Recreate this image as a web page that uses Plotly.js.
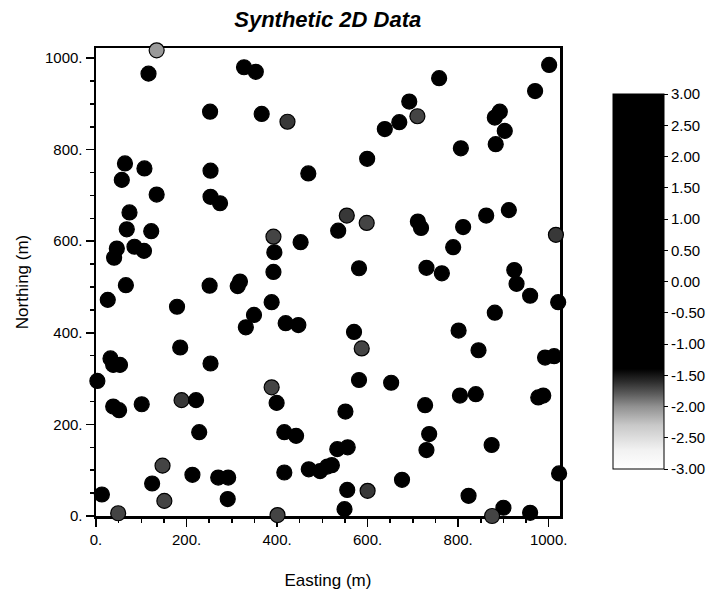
<!DOCTYPE html>
<html>
<head>
<meta charset="utf-8">
<script src="https://cdn.plot.ly/plotly-3.0.1.min.js"></script>
<style>
  html, body { margin: 0; padding: 0; background: #ffffff; }
  #chart { width: 711px; height: 593px; }
</style>
</head>
<body>
<div id="chart"></div>
<script>
// Sample locations (m) and the measured value at each location
const easting = [
  134, 116, 327, 353, 1001, 970, 758, 252, 366, 423,
  692, 710, 670, 638, 892, 881, 903, 883, 806, 599,
  64, 107, 57, 253, 469, 134, 253, 274, 74, 68,
  122, 46, 85, 106, 40, 392, 394, 452, 554, 535,
  598, 711, 718, 811, 862, 912, 789, 1016, 392, 581,
  730, 764, 924, 929, 959, 1021, 66, 26, 251, 313,
  318, 388, 179, 349, 331, 419, 447, 881, 570, 587,
  801, 845, 186, 253, 32, 38, 53, 3, 992, 1012,
  581, 652, 38, 51, 101, 189, 221, 388, 399, 804,
  839, 977, 988, 727, 551, 228, 416, 442, 736, 730,
  874, 533, 556, 147, 124, 213, 270, 292, 416, 470,
  495, 511, 521, 676, 1023, 151, 291, 13, 49, 401,
  549, 555, 600, 823, 900, 875, 959
];
const northing = [
  1017, 966, 980, 970, 985, 928, 956, 883, 878, 861,
  905, 873, 860, 845, 883, 870, 841, 812, 803, 780,
  770, 759, 734, 754, 748, 702, 697, 683, 663, 626,
  622, 584, 588, 579, 564, 610, 576, 598, 656, 623,
  640, 643, 629, 631, 656, 668, 587, 614, 533, 541,
  542, 530, 537, 507, 481, 467, 504, 472, 503, 502,
  512, 467, 457, 439, 412, 421, 417, 444, 402, 366,
  405, 362, 368, 333, 344, 330, 330, 295, 346, 349,
  297, 291, 239, 231, 244, 253, 253, 281, 247, 263,
  266, 259, 263, 242, 228, 183, 183, 175, 179, 144,
  155, 146, 150, 110, 71, 90, 84, 84, 95, 102,
  98, 108, 111, 79, 93, 33, 37, 47, 6, 2,
  15, 57, 55, 44, 18, 0, 7
];
const values = [
  -2.05, 0.85, 1.40, 0.62, 2.10, 1.75, 0.33, -0.45, 0.90, -1.65,
  1.12, -1.70, 0.48, -0.20, 2.35, 1.60, 0.95, 0.27, -0.70, 1.05,
  0.15, -0.35, 0.72, 1.88, -0.95, 0.40, 1.25, 0.05, -0.60, 0.98,
  1.55, -0.15, 0.66, 1.30, 0.22, -1.70, 0.58, -0.40, -1.65, 0.81,
  -1.70, 1.45, 0.12, -0.88, 0.70, 1.95, 0.36, -1.65, -0.25, 1.10,
  0.55, -1.05, 0.88, 1.66, 0.30, -0.52, 1.20, 0.44, -0.78, 0.92,
  1.38, 0.18, -0.30, 0.76, 1.02, -0.64, 0.50, 1.72, 0.08, -1.70,
  0.63, 1.15, -0.48, 0.86, 0.24, 1.48, -0.12, 0.69, 2.05, 0.41,
  -0.83, 0.97, 0.35, 1.28, -0.22, -1.65, 0.74, -1.70, 0.16, 1.08,
  0.52, -0.58, 1.34, 0.28, 0.83, -0.38, 1.62, 0.46, 0.10, -0.92,
  0.67, 1.18, 0.31, -1.70, 0.89, 0.20, -0.68, 1.52, 0.60, 0.02,
  1.22, -0.44, 0.78, 0.38, 1.80, -1.70, 0.54, -0.26, -1.70, -1.70,
  0.94, 0.47, -1.65, 1.06, 0.13, -1.70, 0.71
];

// Axis and colour-bar tick labels
const axisTickVals = [0, 200, 400, 600, 800, 1000];
const axisTickText = ["0.", "200.", "400.", "600.", "800.", "1000."];
const barTickVals = [3, 2.5, 2, 1.5, 1, 0.5, 0, -0.5, -1, -1.5, -2, -2.5, -3];
const barTickText = ["3.00", "2.50", "2.00", "1.50", "1.00", "0.50", "0.00",
                     "-0.50", "-1.00", "-1.50", "-2.00", "-2.50", "-3.00"];

// Grey ramp at the low end, solid black above about -1.4
const greyScale = [
  [0.000, "#ffffff"],
  [0.050, "#f2f2f2"],
  [0.117, "#c8c8c8"],
  [0.167, "#909090"],
  [0.200, "#5c5c5c"],
  [0.233, "#2c2c2c"],
  [0.267, "#000000"],
  [1.000, "#000000"]
];

const FONT = "Liberation Sans, Arial, Helvetica, sans-serif";

const trace = {
  type: "scatter",
  mode: "markers",
  x: easting,
  y: northing,
  cliponaxis: false,
  hoverinfo: "skip",
  marker: {
    size: 15,
    color: values,
    cmin: -3,
    cmax: 3,
    colorscale: greyScale,
    line: { color: "#000000", width: 1.2 },
    showscale: true,
    colorbar: {
      x: 1.114,
      xanchor: "left",
      y: 0.9017,
      yanchor: "top",
      len: 375,
      lenmode: "pixels",
      thickness: 51,
      thicknessmode: "pixels",
      xpad: 0,
      ypad: 0,
      outlinewidth: 1,
      outlinecolor: "#000000",
      ticks: "outside",
      ticklen: 4,
      tickwidth: 1,
      tickcolor: "#000000",
      tickmode: "array",
      tickvals: barTickVals,
      ticktext: barTickText,
      tickfont: { family: FONT, size: 15, color: "#000000" }
    }
  }
};

function axis(range, titleText, standoff) {
  return {
    range: range,
    showline: true,
    linewidth: 2.5,
    linecolor: "#000000",
    mirror: true,
    showgrid: false,
    zeroline: false,
    layer: "below traces",
    ticks: "outside",
    ticklen: 8,
    tickwidth: 1.5,
    tickcolor: "#000000",
    tickmode: "array",
    tickvals: axisTickVals,
    ticktext: axisTickText,
    tickfont: { family: FONT, size: 15, color: "#000000" },
    minor: {
      ticks: "outside",
      ticklen: 4,
      tickwidth: 1.5,
      tickcolor: "#000000",
      tick0: 0,
      dtick: 50,
      showgrid: false
    },
    title: {
      text: titleText,
      standoff: standoff,
      font: { family: FONT, size: 17, color: "#000000" }
    },
    automargin: false,
    fixedrange: true
  };
}

const layout = {
  width: 711,
  height: 593,
  margin: { l: 96, r: 151, t: 48, b: 77, autoexpand: false },
  paper_bgcolor: "#ffffff",
  plot_bgcolor: "#ffffff",
  showlegend: false,
  title: {
    text: "<b><i>Synthetic 2D Data</i></b>",
    x: 0.461,
    xanchor: "center",
    xref: "container",
    y: 0.968,
    yanchor: "middle",
    yref: "container",
    font: { family: FONT, size: 22, color: "#000000" }
  },
  xaxis: axis([0, 1025], "Easting (m)", 28),
  yaxis: axis([0, 1022], "Northing (m)", 12)
};

Plotly.newPlot("chart", [trace], layout, { displayModeBar: false, staticPlot: true });
</script>
</body>
</html>
